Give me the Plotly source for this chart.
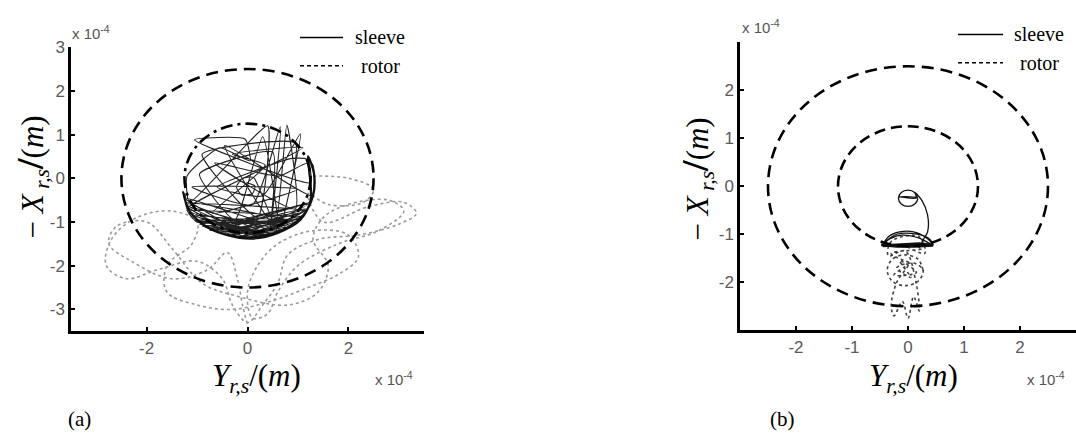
import plotly.graph_objects as go

# Orbit data, in units of 1e-4 m (horizontal = Y_rs, vertical = -X_rs)

# Clearance circles (radii)
outer_radius = 2.5
inner_radius = 1.25

# (a) sleeve orbit
sleeve_a_Y = [
    -0.02, 0.15, 0.10, -0.12, -0.22, -0.10, 0.12, 0.55, 0.78, 0.95, -0.65, 0.62, 1.20, 1.25,
    -1.05, -0.05, 0.05, -0.55, -1.20, -1.15, 0.40, 0.20, -0.90, 0.95, 0.70, 1.05, 0.30, -0.60,
    0.85, 1.15, 1.30, 1.28, -0.45, 0.60, 0.30, -0.25, -0.95, 0.50, 0.45, 0.65, 0.10, -1.10,
    1.00, -0.70, 0.35, -0.30, 1.10, -1.20,
    -1.00, 0.90, -0.60, 1.15, -1.20, 0.30, 1.00, -0.90, 0.70, -1.25, 0.10, 1.20, -0.40, 0.85,
    -1.10, 0.50, -0.20, 1.25, -0.75, 0.95, -1.15, 0.20, -0.50, 1.05, -0.95, 0.60, -1.20, 0.00,
    1.10, -0.30, 0.80, -1.05, 0.40, -0.70, 1.20, -0.10, 0.90, -1.22, 0.25, -0.85, 1.00, -0.45,
    0.65, -1.15, 0.15, 1.15, -0.60, 0.45, -1.00, 0.75, -0.20, 1.05,
]
sleeve_a_negX = [
    -0.10, -0.18, -0.35, -0.38, -0.20, 0.00, 0.02, -1.05, 1.22, -0.70, 0.35, 0.05, 0.35, -0.10,
    0.88, 0.90, 0.40, 0.70, 0.05, -0.55, 1.20, -0.90, 0.55, 0.80, -0.95, 1.02, -0.40, -0.20,
    0.45, 0.45, 0.30, -0.40, 0.75, -1.20, 0.95, -0.95, 0.10, 0.60, -1.20, 1.18, -0.60, -0.20,
    -0.25, -0.80, 0.30, 0.55, 0.70, -0.70,
    -1.00, -0.95, -1.25, -0.75, -0.60, -1.32, -1.00, -1.10, -1.20, -0.45, -1.30, -0.70, -1.28, -1.10,
    -0.85, -1.28, -1.10, -0.55, -1.20, -0.90, -0.75, -1.33, -0.95, -0.95, -1.05, -1.25, -0.65, -1.35,
    -0.85, -1.30, -1.05, -0.95, -1.30, -1.15, -0.60, -1.32, -1.00, -0.55, -1.20, -1.12, -0.80, -1.25,
    -1.18, -0.80, -1.28, -0.70, -1.20, -1.25, -0.95, -1.10, -1.35, -0.90,
]
# (a) sleeve rim strands (lower bowl envelope)
sleeve_a_rim_Y = [-1.28, -1.15, -0.80, -0.30, 0.20, 0.70, 1.10, 1.30, 1.32, 1.20,
                  1.22, 1.25, 1.05, 0.60, 0.10, -0.40, -0.85, -1.18, -1.25]
sleeve_a_rim_negX = [-0.30, -0.75, -1.12, -1.32, -1.34, -1.18, -0.85, -0.40, 0.10, 0.50,
                     0.20, -0.50, -0.95, -1.25, -1.38, -1.30, -1.08, -0.70, -0.35]

# (a) rotor orbit
rotor_a_Y = [
    1.30, 2.00, 2.50, 2.30, 1.60, 1.20, 1.50, 2.40, 3.10, 3.35, 3.00, 2.20, 1.40, 0.80, 0.60,
    0.30, 0.00, -0.30, -0.50, -1.00, -1.80, -2.40, -2.80, -2.70, -2.20, -1.50, -1.00, -1.10,
    -1.60, -1.60, -1.00, -0.30, 0.50, 1.20, 1.80, 2.20, 2.00, 1.30, 0.60, 0.20, 0.00, 0.10,
    0.40, 0.60, 1.00, 1.80, 2.60, 3.10, 2.80, 2.00, 1.50, 1.30, 1.60, 1.40, 0.80, -0.20,
    -0.90, -1.50, -2.00, -2.60, -2.75, -2.30, -1.50, -0.80, -0.40, -0.20, -0.10, 0.00,
]
rotor_a_negX = [
    0.05, 0.00, -0.25, -0.55, -0.60, -0.35, -1.00, -0.65, -0.55, -0.80, -1.05, -1.30, -1.40,
    -1.75, -2.40, -2.90, -3.30, -2.90, -2.30, -1.90, -2.10, -2.30, -2.00, -1.40, -0.90, -0.75,
    -1.00, -1.50, -2.00, -2.60, -2.90, -3.00, -2.80, -2.50, -2.20, -1.80, -1.30, -1.20, -1.50,
    -2.00, -2.60, -3.20, -3.10, -2.60, -2.00, -1.50, -1.20, -0.75, -0.50, -0.60, -0.90, -1.40,
    -2.00, -2.60, -2.90, -2.70, -2.40, -1.60, -1.00, -1.10, -1.50, -1.90, -2.30, -2.10, -1.70,
    -2.30, -2.90, -3.35,
]

# (b) sleeve orbit: small loop, transfer arc, settled arc
sleeve_b_Y = [0.17, 0.12, 0.00, -0.12, -0.17, -0.12, 0.00, 0.12, 0.17, -0.16, 0.15, 0.12,
              0.25, 0.35, 0.35, 0.25, 0.45, 0.30, 0.10, -0.15, -0.35, -0.45, -0.40, -0.20,
              0.05, 0.25, 0.40, 0.42, 0.20, -0.10, -0.30, -0.44]
sleeve_b_negX = [-0.25, -0.13, -0.08, -0.13, -0.25, -0.37, -0.42, -0.37, -0.25, -0.22,
                 -0.24, -0.13, -0.30, -0.60, -0.95, -1.18, -1.22, -1.05, -0.95, -0.95,
                 -1.05, -1.22, -1.15, -1.00, -0.98, -1.02, -1.12, -1.20, -1.08, -1.02,
                 -1.08, -1.20]
# (b) settled sleeve contact line
sleeve_b_base_Y = [-0.48, -0.20, 0.10, 0.45, 0.20, -0.15, -0.45]
sleeve_b_base_negX = [-1.22, -1.25, -1.25, -1.23, -1.20, -1.22, -1.24]

# (b) rotor orbit
rotor_b_Y = [0.27, 0.18, -0.05, -0.28, -0.37, -0.28, -0.05, 0.18, 0.27, 0.10, -0.20, 0.05,
             -0.15, 0.15, -0.25, 0.00, -0.20, -0.30, -0.25, -0.10, 0.00, 0.10, 0.20, 0.15,
             -0.05, -0.35, -0.30, 0.20, 0.30, -0.10, 0.25, -0.30, 0.05]
rotor_b_negX = [-1.75, -1.52, -1.43, -1.52, -1.75, -1.98, -2.07, -1.98, -1.75, -1.60,
                -1.70, -1.90, -1.55, -1.80, -1.85, -1.65, -2.00, -2.50, -2.70, -2.40,
                -2.75, -2.30, -2.60, -2.05, -1.35, -1.45, -1.15, -1.05, -1.40, -1.20,
                -1.30, -1.40, -1.60]

# Layout geometry (pixels of a 1076x436 canvas)
W, H = 1076, 436


def px(x):
    return x / W


def py(y):
    return 1 - y / H


tick_font = dict(family="Liberation Sans, Arial", size=17, color="#5a5a5a")
axis_common = dict(
    showline=True, linewidth=2.5, linecolor="black", mirror=False,
    ticks="inside", ticklen=4, tickwidth=2, tickcolor="black",
    showgrid=False, zeroline=False, tickfont=tick_font,
)

fig = go.Figure()

# panel (a)
fig.add_trace(go.Scatter(x=rotor_a_Y, y=rotor_a_negX, mode="lines", line_shape="spline",
                         line=dict(color="#9a9a9a", width=1.6, dash="dot"),
                         xaxis="x", yaxis="y", showlegend=False))
fig.add_trace(go.Scatter(x=sleeve_a_Y, y=sleeve_a_negX, mode="lines",
                         line=dict(color="#222222", width=1.1, shape="spline", smoothing=0.5),
                         xaxis="x", yaxis="y", showlegend=False))
fig.add_trace(go.Scatter(x=sleeve_a_rim_Y, y=sleeve_a_rim_negX, mode="lines", line_shape="spline",
                         line=dict(color="#111111", width=2.2),
                         xaxis="x", yaxis="y", showlegend=False))

# panel (b)
fig.add_trace(go.Scatter(x=rotor_b_Y, y=rotor_b_negX, mode="lines", line_shape="spline",
                         line=dict(color="#444444", width=1.6, dash="dot"),
                         xaxis="x2", yaxis="y2", showlegend=False))
fig.add_trace(go.Scatter(x=sleeve_b_Y, y=sleeve_b_negX, mode="lines", line_shape="spline",
                         line=dict(color="#111111", width=1.3),
                         xaxis="x2", yaxis="y2", showlegend=False))
fig.add_trace(go.Scatter(x=sleeve_b_base_Y, y=sleeve_b_base_negX, mode="lines",
                         line=dict(color="#111111", width=3),
                         xaxis="x2", yaxis="y2", showlegend=False))

shapes = []
# clearance circles
for xr, yr, r, dash in [("x", "y", outer_radius, "12px,7px"),
                        ("x", "y", inner_radius, "12px,5px,3px,5px"),
                        ("x2", "y2", outer_radius, "12px,7px"),
                        ("x2", "y2", inner_radius, "11px,6px")]:
    shapes.append(dict(type="circle", xref=xr, yref=yr, x0=-r, x1=r, y0=-r, y1=r,
                       line=dict(color="black", width=2.6, dash=dash)))


def note(text, x, y, font, xanchor="center", **kw):
    return dict(text=text, x=px(x), y=py(y), xref="paper", yref="paper",
                xanchor=xanchor, yanchor="middle", showarrow=False, font=font, **kw)


annotations = []
legend_font = dict(family="Liberation Serif, Times New Roman", size=20, color="black")
# legend entries for each panel
for x0, x1, ys, yr, tx in [(300, 343, 29, 58, 353), (958, 1003, 26, 55, 1012)]:
    shapes.append(dict(type="line", xref="paper", yref="paper", x0=px(x0), x1=px(x1),
                       y0=py(ys), y1=py(ys), line=dict(color="black", width=1.5)))
    shapes.append(dict(type="line", xref="paper", yref="paper", x0=px(x0), x1=px(x1),
                       y0=py(yr), y1=py(yr), line=dict(color="black", width=1.5, dash="4px,3px")))
    annotations.append(note("sleeve", tx, ys, legend_font, xanchor="left"))
    annotations.append(note("rotor", tx + 6, yr, legend_font, xanchor="left"))

label_font = dict(family="Liberation Serif, Times New Roman", size=31, color="black")
xlabel = "<i>Y</i><sub><i>r,s</i></sub>/(<i>m</i>)"
ylabel = "− <i>X</i><sub><i> r,s</i></sub><span style='font-size:38px'><b>/</b></span>(<i>m</i>)"
for x, y in [(256, 377), (913, 377)]:
    annotations.append(note(xlabel, x, y, label_font))
for x, y in [(32, 172), (697, 174)]:
    annotations.append(note(ylabel, x, y, label_font, textangle=-90))

exp_font = dict(family="Liberation Sans, Arial", size=15, color="#555555")
for x, y in [(70, 24), (740, 18), (373, 377), (1025, 377)]:
    annotations.append(note("x 10<sup>-4</sup>", x, y, exp_font, xanchor="left"))

panel_font = dict(family="Liberation Serif, Times New Roman", size=21, color="black")
for x, t in [(79, "(a)"), (782, "(b)")]:
    annotations.append(note(t, x, 419, panel_font))

fig.update_layout(
    width=W, height=H, margin=dict(l=0, r=0, t=0, b=0),
    paper_bgcolor="white", plot_bgcolor="white",
    xaxis=dict(domain=[px(71), px(424)], range=[-3.5, 3.5], anchor="y",
               tickvals=[-2, 0, 2], ticktext=["-2", "0", "2"], **axis_common),
    yaxis=dict(domain=[py(329), py(39)], range=[-3.5, 3], anchor="x",
               tickvals=[-3, -2, -1, 0, 1, 2, 3],
               ticktext=["-3", "-2", "-1", "0", "1", "2", "3"], **axis_common),
    xaxis2=dict(domain=[px(740), 1.0], range=[-3, 3], anchor="y2",
                tickvals=[-2, -1, 0, 1, 2], ticktext=["-2", "-1", "0", "1", "2"], **axis_common),
    yaxis2=dict(domain=[py(328), py(34)], range=[-3, 3], anchor="x2",
                tickvals=[-2, -1, 0, 1, 2], ticktext=["-2", "-1", "0", "1", "2"], **axis_common),
    shapes=shapes, annotations=annotations,
)

fig.write_html("out.html")
